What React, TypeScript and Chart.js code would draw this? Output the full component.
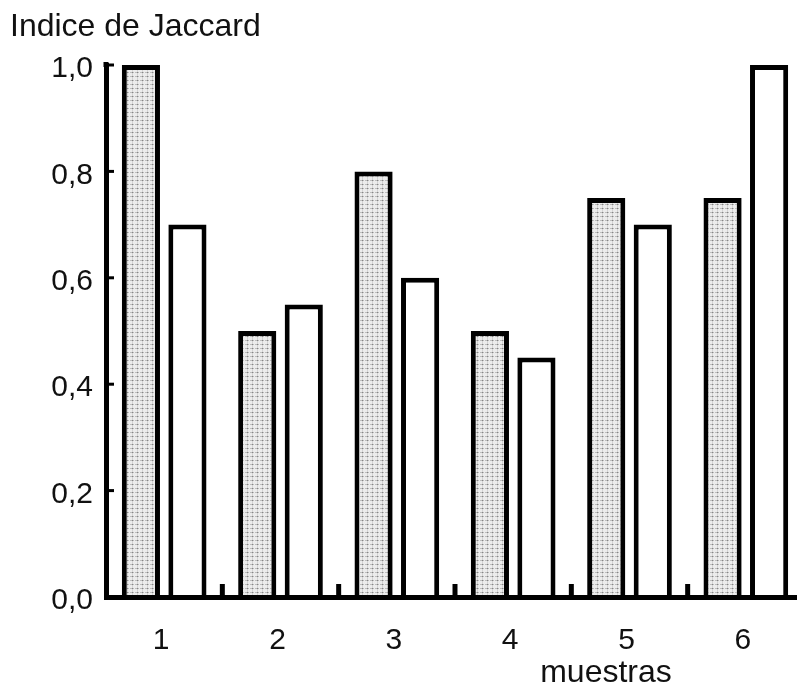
import React, { useEffect, useRef } from 'react';
import { Chart, registerables } from 'chart.js';

Chart.register(...registerables);

const categories = ['1', '2', '3', '4', '5', '6'];
const seriesShaded = [1.0, 0.5, 0.8, 0.5, 0.75, 0.75];
const seriesWhite = [0.7, 0.55, 0.6, 0.45, 0.7, 1.0];
const yTickValues = [0, 0.2, 0.4, 0.6, 0.8, 1.0];
const yTitle = 'Indice de Jaccard';
const xTitle = 'muestras';

const FONT = "'Liberation Sans', Arial, Helvetica, sans-serif";

function makePattern(): CanvasPattern | string {
  const c = document.createElement('canvas');
  c.width = 5;
  c.height = 4;
  const g = c.getContext('2d');
  if (!g) return '#dddddd';
  g.fillStyle = '#ececec';
  g.fillRect(0, 0, 5, 4);
  g.fillStyle = '#bdbdbd';
  g.fillRect(0, 0, 4, 1);
  g.fillStyle = '#d2d2d2';
  g.fillRect(2, 0, 1, 4);
  g.fillStyle = '#858585';
  g.fillRect(2, 0, 1, 1);
  const p = g.createPattern(c, 'repeat');
  return p || '#dddddd';
}

const decorPlugin = {
  id: 'decor',
  afterDraw(chart: any) {
    const ctx = chart.ctx;
    const area = chart.chartArea;
    const x = chart.scales.x;
    const y = chart.scales.y;
    ctx.save();
    ctx.strokeStyle = '#000';
    ctx.lineCap = 'butt';
    // axis extends slightly above the top tick
    ctx.lineWidth = 5;
    ctx.beginPath();
    ctx.moveTo(area.left, area.top + 2);
    ctx.lineTo(area.left, area.top - 3);
    ctx.stroke();
    // inward y ticks
    ctx.lineWidth = 3;
    yTickValues.forEach((v) => {
      if (v === 0) return;
      const py = y.getPixelForValue(v);
      ctx.beginPath();
      ctx.moveTo(area.left, py);
      ctx.lineTo(area.left + 8, py);
      ctx.stroke();
    });
    // inward x ticks at category boundaries
    ctx.lineWidth = 5;
    for (let i = 0; i < categories.length - 1; i++) {
      const bx = (x.getPixelForValue(i) + x.getPixelForValue(i + 1)) / 2;
      ctx.beginPath();
      ctx.moveTo(bx, area.bottom);
      ctx.lineTo(bx, area.bottom - 13);
      ctx.stroke();
    }
    // texts
    ctx.fillStyle = '#111';
    ctx.font = `32px ${FONT}`;
    ctx.textAlign = 'left';
    ctx.textBaseline = 'alphabetic';
    ctx.fillText(yTitle, 10, 36);
    ctx.textAlign = 'center';
    ctx.fillText(xTitle, 606, 682);
    ctx.restore();
  },
};

export default function App() {
  const ref = useRef<HTMLCanvasElement | null>(null);

  useEffect(() => {
    if (!ref.current) return;
    const pattern = makePattern();
    const chart = new Chart(ref.current, {
      type: 'bar',
      data: {
        labels: categories,
        datasets: [
          {
            label: 'A',
            data: seriesShaded,
            backgroundColor: pattern as any,
            borderColor: '#000',
            borderWidth: 5,
            categoryPercentage: 0.8,
            barPercentage: 0.82,
          },
          {
            label: 'B',
            data: seriesWhite,
            backgroundColor: '#ffffff',
            borderColor: '#000',
            borderWidth: 5,
            categoryPercentage: 0.8,
            barPercentage: 0.82,
          },
        ],
      },
      options: {
        responsive: false,
        animation: false,
        events: [],
        layout: { padding: { top: 65, right: 6, left: 0, bottom: 0 } },
        plugins: {
          legend: { display: false },
          tooltip: { enabled: false },
          title: { display: false },
        },
        scales: {
          x: {
            grid: { display: false, drawTicks: false },
            border: { display: true, color: '#000', width: 5, z: 1 },
            ticks: {
              color: '#111',
              font: { family: FONT, size: 30 },
              padding: 26,
              labelOffset: -3,
              maxRotation: 0,
            },
            afterFit: (s: any) => {
              s.height = 92;
            },
          },
          y: {
            min: 0,
            max: 1,
            grid: { display: false, drawTicks: false },
            border: { display: true, color: '#000', width: 5, z: 1 },
            ticks: {
              color: '#111',
              font: { family: FONT, size: 30 },
              padding: 13,
              labelOffset: 4,
              callback: (v: any) => Number(v).toFixed(1).replace('.', ','),
            },
            afterBuildTicks: (s: any) => {
              s.ticks = yTickValues.map((v) => ({ value: v }));
            },
            afterFit: (s: any) => {
              s.width = 106;
            },
          },
        },
      },
      plugins: [decorPlugin],
    });
    return () => chart.destroy();
  }, []);

  return (
    <div
      style={{
        position: 'absolute',
        left: 0,
        top: 0,
        width: 797,
        height: 689,
        overflow: 'hidden',
        background: '#fff',
      }}
    >
      <canvas ref={ref} width={810} height={689} style={{ width: 810, height: 689, display: 'block' }} />
    </div>
  );
}
